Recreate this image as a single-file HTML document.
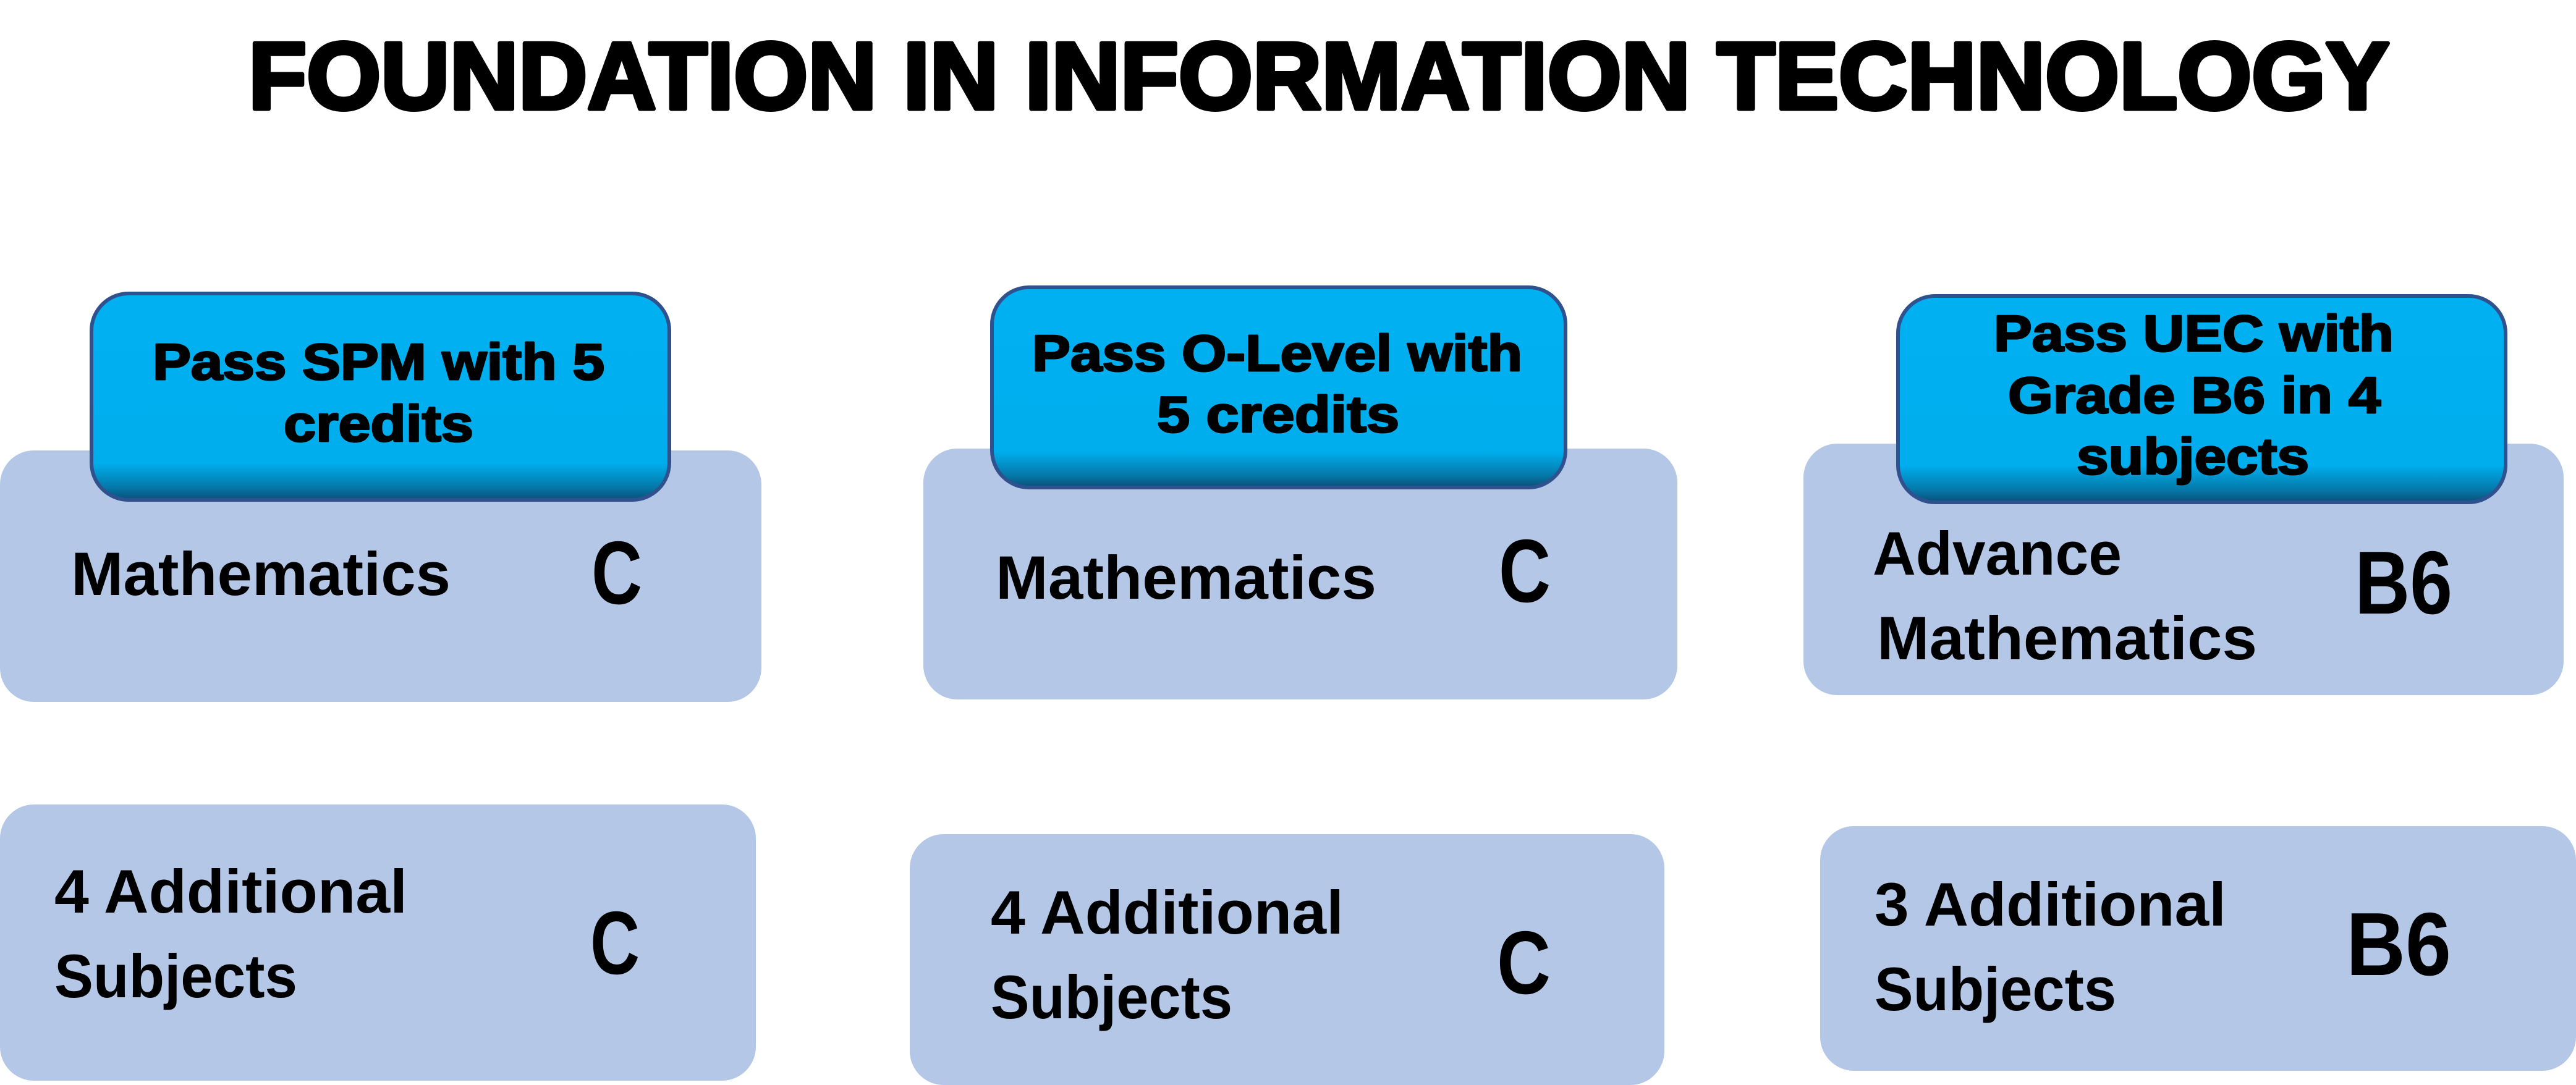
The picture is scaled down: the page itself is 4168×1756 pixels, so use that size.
<!DOCTYPE html>
<html><head><meta charset="utf-8"><style>html,body{margin:0;padding:0;background:#fff}svg{display:block}</style></head>
<body>
<svg width="4168" height="1756" viewBox="0 0 4168 1756" xmlns="http://www.w3.org/2000/svg">
<defs>
<linearGradient id="bg" x1="0" y1="0" x2="0" y2="1">
<stop offset="0" stop-color="#00b0f0"/>
<stop offset="0.82" stop-color="#00aeee"/>
<stop offset="0.94" stop-color="#0478a8"/>
<stop offset="1" stop-color="#0a4f78"/>
</linearGradient>
</defs>
<g font-family="Liberation Sans, sans-serif" font-weight="bold" fill="#000">
<text x="402" y="176" font-size="154" stroke="#000" stroke-width="7" stroke-linejoin="round" textLength="3464" lengthAdjust="spacingAndGlyphs">FOUNDATION IN INFORMATION TECHNOLOGY</text>

<g fill="#b4c7e7">
<rect x="0" y="729" width="1232" height="407" rx="55"/>
<rect x="0" y="1302" width="1223" height="447" rx="55"/>
<rect x="1494" y="726" width="1220" height="406" rx="55"/>
<rect x="1472" y="1350" width="1221" height="406" rx="55"/>
<rect x="2918" y="718" width="1230" height="407" rx="55"/>
<rect x="2945" y="1337" width="1223" height="396" rx="55"/>
</g>
<g fill="url(#bg)" stroke="#2f528f" stroke-width="6">
<rect x="148" y="475" width="935" height="334" rx="60"/>
<rect x="1605" y="465" width="928" height="324" rx="60"/>
<rect x="3071" y="479" width="983" height="334" rx="60"/>
</g>

<g font-size="83" stroke="#000" stroke-width="3" stroke-linejoin="round">
<text x="247" y="614" textLength="731" lengthAdjust="spacingAndGlyphs">Pass SPM with 5</text>
<text x="459" y="714" textLength="307" lengthAdjust="spacingAndGlyphs">credits</text>
<text x="1670" y="600" textLength="793" lengthAdjust="spacingAndGlyphs">Pass O-Level with</text>
<text x="1872" y="699" textLength="392" lengthAdjust="spacingAndGlyphs">5 credits</text>
<text x="3226" y="568" textLength="647" lengthAdjust="spacingAndGlyphs">Pass UEC with</text>
<text x="3249" y="668" textLength="603" lengthAdjust="spacingAndGlyphs">Grade B6 in 4</text>
<text x="3360" y="767" textLength="376" lengthAdjust="spacingAndGlyphs">subjects</text>
</g>

<g font-size="99">
<text x="115" y="963" textLength="614" lengthAdjust="spacingAndGlyphs">Mathematics</text>
<text x="88" y="1477" textLength="571" lengthAdjust="spacingAndGlyphs">4 Additional</text>
<text x="88" y="1614" textLength="393" lengthAdjust="spacingAndGlyphs">Subjects</text>
<text x="1611" y="969" textLength="616" lengthAdjust="spacingAndGlyphs">Mathematics</text>
<text x="1603" y="1511" textLength="571" lengthAdjust="spacingAndGlyphs">4 Additional</text>
<text x="1603" y="1648" textLength="391" lengthAdjust="spacingAndGlyphs">Subjects</text>
<text x="3030" y="930" textLength="403" lengthAdjust="spacingAndGlyphs">Advance</text>
<text x="3037" y="1067" textLength="615" lengthAdjust="spacingAndGlyphs">Mathematics</text>
<text x="3033" y="1498" textLength="569" lengthAdjust="spacingAndGlyphs">3 Additional</text>
<text x="3033" y="1635" textLength="391" lengthAdjust="spacingAndGlyphs">Subjects</text>
</g>
<g font-size="145">
<text x="957" y="977" textLength="82" lengthAdjust="spacingAndGlyphs">C</text>
<text x="955" y="1576" textLength="80" lengthAdjust="spacingAndGlyphs">C</text>
<text x="2425" y="974" textLength="84" lengthAdjust="spacingAndGlyphs">C</text>
<text x="2422" y="1608" textLength="87" lengthAdjust="spacingAndGlyphs">C</text>
<text x="3810" y="993" textLength="158" lengthAdjust="spacingAndGlyphs">B6</text>
<text x="3796" y="1578" textLength="170" lengthAdjust="spacingAndGlyphs">B6</text>
</g>
</g>
</svg>
</body></html>
